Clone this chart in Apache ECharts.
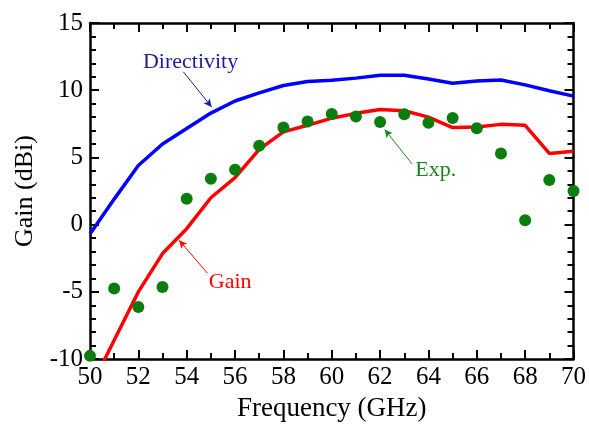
<!DOCTYPE html>
<html>
<head>
<meta charset="utf-8">
<script src="https://cdn.jsdelivr.net/npm/echarts@6/dist/echarts.min.js"></script>
<style>
  html, body { margin: 0; padding: 0; background: #fff; }
  #chart { width: 589px; height: 427px; }
</style>
</head>
<body>
<div id="chart"></div>
<script>
// frequency (GHz)
const freq = [50, 51, 52, 53, 54, 55, 56, 57, 58, 59, 60, 61, 62, 63, 64, 65, 66, 67, 68, 69, 70];
// simulated directivity (dBi)
const directivity = [-0.7, 1.9, 4.4, 6.0, 7.15, 8.3, 9.2, 9.8, 10.35, 10.65, 10.75, 10.9, 11.12, 11.12, 10.83, 10.52, 10.69, 10.76, 10.4, 9.96, 9.56];
// simulated gain (dBi), first point lies below the plot
const gain = [-12.2, -8.6, -5.0, -2.15, -0.3, 2.0, 3.5, 5.6, 6.9, 7.39, 7.92, 8.28, 8.57, 8.47, 8.0, 7.22, 7.27, 7.46, 7.39, 5.3, 5.46];
// measured gain (dBi)
const measured = [-9.76, -4.75, -6.12, -4.63, 1.92, 3.42, 4.09, 5.87, 7.22, 7.68, 8.23, 8.04, 7.63, 8.21, 7.58, 7.94, 7.17, 5.3, 0.33, 3.32, 2.5];

const xTicks = { min: 50, max: 70, step: 2 };
const yTicks = { min: -10, max: 15, step: 5 };

// annotation labels and their arrows, in data coordinates
const notes = [
  { text: "Directivity", color: "#1c1c9a", at: [54.16, 12.09], from: [53.86, 11.37], to: [55.03, 8.76] },
  { text: "Gain", color: "#ff0000", at: [55.8, -4.29], from: [54.86, -3.62], to: [53.69, -1.16] },
  { text: "Exp.", color: "#16861a", at: [64.3, 4.02], from: [63.33, 4.5], to: [62.19, 7.07] },
];

const font = "'Liberation Serif', 'Times New Roman', serif";
const zip = (xs, ys) => xs.map((x, i) => [x, ys[i]]);

function axisStyle(showLabel) {
  return {
    axisLine: { show: true, onZero: false, lineStyle: { color: "#000", width: 2.5 } },
    axisTick: { show: true, inside: true, length: 9, lineStyle: { color: "#000", width: 2 } },
    minorTick: { show: true, length: 6, lineStyle: { color: "#000", width: 2 } },
    splitLine: { show: false },
    axisLabel: { show: showLabel, color: "#000", fontFamily: font, fontSize: 25 },
  };
}

function arrow(n) {
  return {
    silent: true,
    symbol: ["none", "arrow"],
    symbolSize: [6, 8],
    label: { show: false },
    lineStyle: { color: n.color, width: 1, type: "solid" },
    itemStyle: { color: n.color },
    emphasis: { disabled: true },
    data: [[{ coord: n.from }, { coord: n.to }]],
  };
}

const chart = echarts.init(document.getElementById("chart"));
chart.setOption({
  animation: false,
  grid: { left: 90, right: 15, top: 23, bottom: 58 },
  xAxis: [
    Object.assign({
      type: "value", position: "bottom", min: xTicks.min, max: xTicks.max, interval: xTicks.step,
      name: "Frequency (GHz)", nameLocation: "middle", nameGap: 33,
      nameTextStyle: { color: "#000", fontFamily: font, fontSize: 27 },
    }, axisStyle(true), { axisLabel: { show: true, color: "#000", fontFamily: font, fontSize: 25, margin: 6 } }),
    Object.assign({ type: "value", position: "top", min: xTicks.min, max: xTicks.max, interval: xTicks.step }, axisStyle(false)),
  ],
  yAxis: [
    Object.assign({
      type: "value", position: "left", min: yTicks.min, max: yTicks.max, interval: yTicks.step,
      name: "Gain (dBi)", nameLocation: "middle", nameGap: 52,
      nameTextStyle: { color: "#000", fontFamily: font, fontSize: 26 },
    }, axisStyle(true), { axisLabel: { show: true, color: "#000", fontFamily: font, fontSize: 25, margin: 7 } }),
    Object.assign({ type: "value", position: "right", min: yTicks.min, max: yTicks.max, interval: yTicks.step }, axisStyle(false)),
  ],
  series: [
    {
      name: "Directivity", type: "line", data: zip(freq, directivity), showSymbol: false, symbol: "none",
      lineStyle: { color: "#0000ff", width: 3.5 }, clip: true, markLine: arrow(notes[0]),
    },
    {
      name: "Gain", type: "line", data: zip(freq, gain), showSymbol: false, symbol: "none",
      lineStyle: { color: "#ff0000", width: 3.5 }, clip: true, markLine: arrow(notes[1]),
    },
    {
      name: "Exp.", type: "scatter", data: zip(freq, measured), symbolSize: 12, clip: false,
      itemStyle: { color: "#0b7d0d", opacity: 1 }, markLine: arrow(notes[2]), z: 3,
    },
  ],
});

// axes' minor ticks: x every 1 GHz, y every 1 dB
chart.setOption({
  xAxis: [{ minorTick: { splitNumber: 2 } }, { minorTick: { splitNumber: 2 } }],
  yAxis: [{ minorTick: { splitNumber: 5 } }, { minorTick: { splitNumber: 5 } }],
});

chart.setOption({
  graphic: notes.map((n) => {
    const p = chart.convertToPixel({ gridIndex: 0 }, n.at);
    return {
      type: "text", x: p[0], y: p[1], silent: true,
      style: { text: n.text, fill: n.color, font: "22px " + font, align: "center", verticalAlign: "middle" },
    };
  }),
});
</script>
</body>
</html>
